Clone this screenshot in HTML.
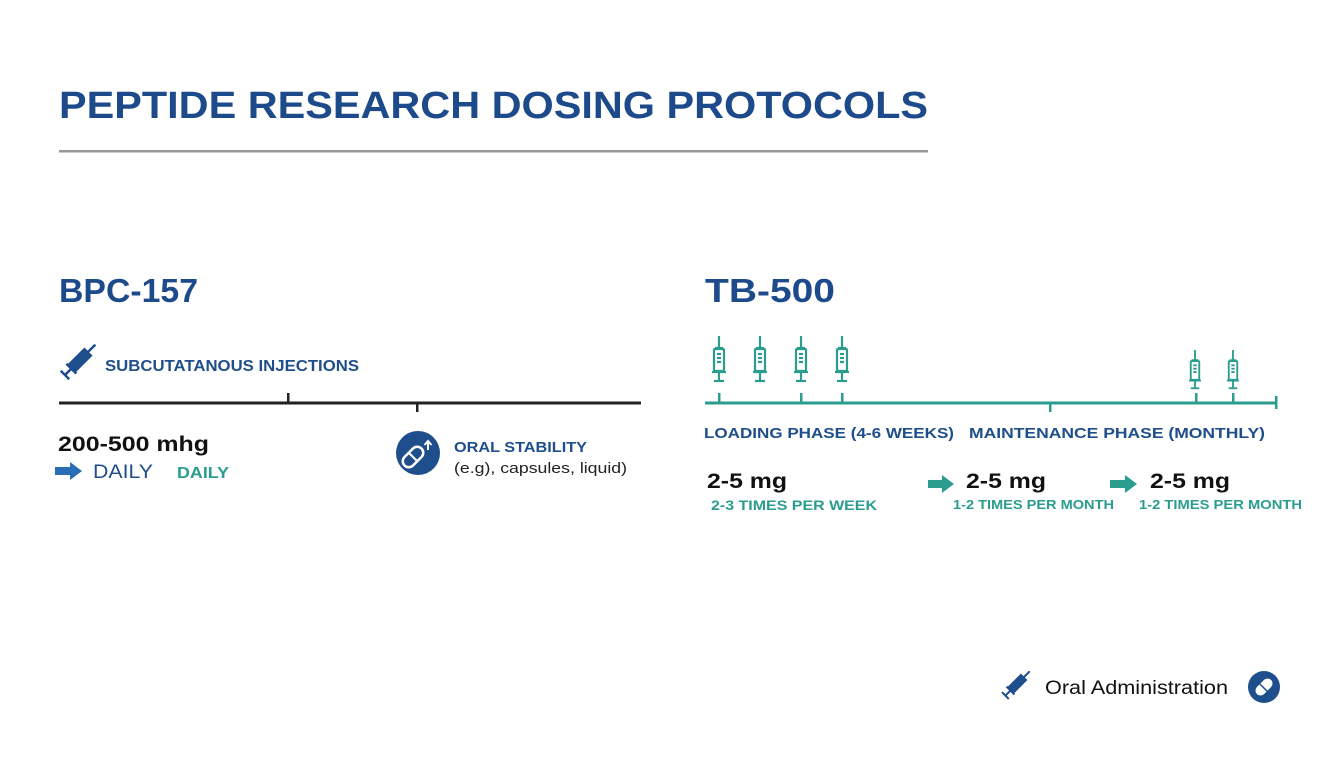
<!DOCTYPE html>
<html><head><meta charset="utf-8"><style>
html,body{margin:0;padding:0;background:#fff;}
svg{display:block;font-family:"Liberation Sans",sans-serif;}
</style></head><body>
<svg width="1344" height="768" viewBox="0 0 1344 768" xmlns="http://www.w3.org/2000/svg">
<defs>
<g id="syr" fill="none" stroke="#2a9d8f" stroke-width="2.2">
  <line x1="0" y1="0" x2="0" y2="12"/>
  <line x1="-4" y1="12" x2="4" y2="12"/>
  <rect x="-5" y="13" width="10" height="22" rx="1"/>
  <line x1="-2" y1="18" x2="2" y2="18"/><line x1="-2" y1="22" x2="2" y2="22"/><line x1="-2" y1="26" x2="2" y2="26"/>
  <line x1="-7" y1="36" x2="7" y2="36"/>
  <line x1="0" y1="36" x2="0" y2="44"/>
  <line x1="-5" y1="45" x2="5" y2="45"/>
</g>
<g id="dsyr" fill="none" stroke="#1f4e8c" stroke-width="2.5">
  <g transform="rotate(45)">
    <line x1="0" y1="-26" x2="0" y2="-15"/>
    <rect x="-4.5" y="-15" width="9" height="22" fill="#1f4e8c"/>
    <line x1="-7" y1="8" x2="7" y2="8"/>
    <line x1="0" y1="8" x2="0" y2="16"/>
    <line x1="-6" y1="17" x2="6" y2="17"/>
  </g>
</g>
</defs>
<text x="59" y="118" font-size="38" font-weight="bold" fill="#1c4a8a" textLength="869" lengthAdjust="spacingAndGlyphs">PEPTIDE RESEARCH DOSING PROTOCOLS</text>
<rect x="59" y="150" width="869" height="2.5" fill="#999"/>

<text x="59" y="302" font-size="33" font-weight="bold" fill="#1c4a8a" textLength="139" lengthAdjust="spacingAndGlyphs">BPC-157</text>
<use href="#dsyr" transform="translate(77,363)"/>
<text x="105" y="371" font-size="16" font-weight="bold" fill="#1f4e8c" textLength="254" lengthAdjust="spacingAndGlyphs">SUBCUTATANOUS INJECTIONS</text>
<rect x="59" y="401.5" width="582" height="3" fill="#222"/>
<rect x="287" y="393" width="2.5" height="10" fill="#222"/>
<rect x="416" y="403" width="2.5" height="9" fill="#222"/>
<text x="58" y="451" font-size="21" font-weight="bold" fill="#111" textLength="151" lengthAdjust="spacingAndGlyphs">200-500 mhg</text>
<polygon points="55,467 70,467 70,462 82,471 70,480 70,475 55,475" fill="#2a6fb5"/>
<text x="93" y="478" font-size="19" fill="#1f4e8c" textLength="60" lengthAdjust="spacingAndGlyphs">DAILY</text>
<text x="177" y="478" font-size="16" font-weight="bold" fill="#2a9d8f" textLength="52" lengthAdjust="spacingAndGlyphs">DAILY</text>
<circle cx="418" cy="453" r="22" fill="#1f4e8c"/>
<g transform="translate(413,457) rotate(45)"><rect x="-6" y="-12" width="12" height="24" rx="6" fill="none" stroke="#fff" stroke-width="2.5"/><line x1="-6" y1="0" x2="6" y2="0" stroke="#fff" stroke-width="2"/></g>
<path d="M428 450 V441 M424.5 445 L428 441 L431.5 445" stroke="#fff" stroke-width="2" fill="none"/>
<text x="454" y="452" font-size="15" font-weight="bold" fill="#1f4e8c" textLength="133" lengthAdjust="spacingAndGlyphs">ORAL STABILITY</text>
<text x="454" y="473" font-size="15" fill="#222" textLength="173" lengthAdjust="spacingAndGlyphs">(e.g), capsules, liquid)</text>

<text x="705" y="302" font-size="33" font-weight="bold" fill="#1c4a8a" textLength="130" lengthAdjust="spacingAndGlyphs">TB-500</text>
<use href="#syr" transform="translate(719,336)"/>
<use href="#syr" transform="translate(760,336)"/>
<use href="#syr" transform="translate(801,336)"/>
<use href="#syr" transform="translate(842,336)"/>
<use href="#syr" transform="translate(1195,350) scale(0.85)"/>
<use href="#syr" transform="translate(1233,350) scale(0.85)"/>
<rect x="705" y="401.5" width="572" height="3" fill="#2a9d8f"/>
<g fill="#2a9d8f">
<rect x="718" y="393" width="2.5" height="10"/><rect x="800" y="393" width="2.5" height="10"/><rect x="841" y="393" width="2.5" height="10"/>
<rect x="1049" y="403" width="2.5" height="9"/><rect x="1195" y="393" width="2.5" height="10"/><rect x="1232" y="393" width="2.5" height="10"/>
<rect x="1275" y="396" width="2.5" height="13"/>
</g>
<text x="704" y="438" font-size="15" font-weight="bold" fill="#1f4e8c" textLength="250" lengthAdjust="spacingAndGlyphs">LOADING PHASE (4-6 WEEKS)</text>
<text x="969" y="438" font-size="15" font-weight="bold" fill="#1f4e8c" textLength="296" lengthAdjust="spacingAndGlyphs">MAINTENANCE PHASE (MONTHLY)</text>
<text x="707" y="488" font-size="21" font-weight="bold" fill="#111" textLength="80" lengthAdjust="spacingAndGlyphs">2-5 mg</text>
<text x="966" y="488" font-size="21" font-weight="bold" fill="#111" textLength="80" lengthAdjust="spacingAndGlyphs">2-5 mg</text>
<text x="1150" y="488" font-size="21" font-weight="bold" fill="#111" textLength="80" lengthAdjust="spacingAndGlyphs">2-5 mg</text>
<polygon points="928,480 942,480 942,475 954,484 942,493 942,488 928,488" fill="#2a9d8f"/>
<polygon points="1110,480 1125,480 1125,475 1137,484 1125,493 1125,488 1110,488" fill="#2a9d8f"/>
<text x="711" y="510" font-size="14" font-weight="bold" fill="#2a9d8f" textLength="166" lengthAdjust="spacingAndGlyphs">2-3 TIMES PER WEEK</text>
<text x="953" y="509" font-size="13" font-weight="bold" fill="#2a9d8f" textLength="161" lengthAdjust="spacingAndGlyphs">1-2 TIMES PER MONTH</text>
<text x="1139" y="509" font-size="13" font-weight="bold" fill="#2a9d8f" textLength="163" lengthAdjust="spacingAndGlyphs">1-2 TIMES PER MONTH</text>

<use href="#dsyr" transform="translate(1015,686) scale(0.8)"/>
<text x="1045" y="694" font-size="19" fill="#111" textLength="183" lengthAdjust="spacingAndGlyphs">Oral Administration</text>
<circle cx="1264" cy="687" r="16" fill="#1f4e8c"/>
<g transform="translate(1264,687) rotate(45)"><rect x="-5" y="-10" width="10" height="20" rx="5" fill="#fff"/><rect x="-5" y="0" width="10" height="1.5" fill="#1f4e8c"/></g>
</svg>
</body></html>
